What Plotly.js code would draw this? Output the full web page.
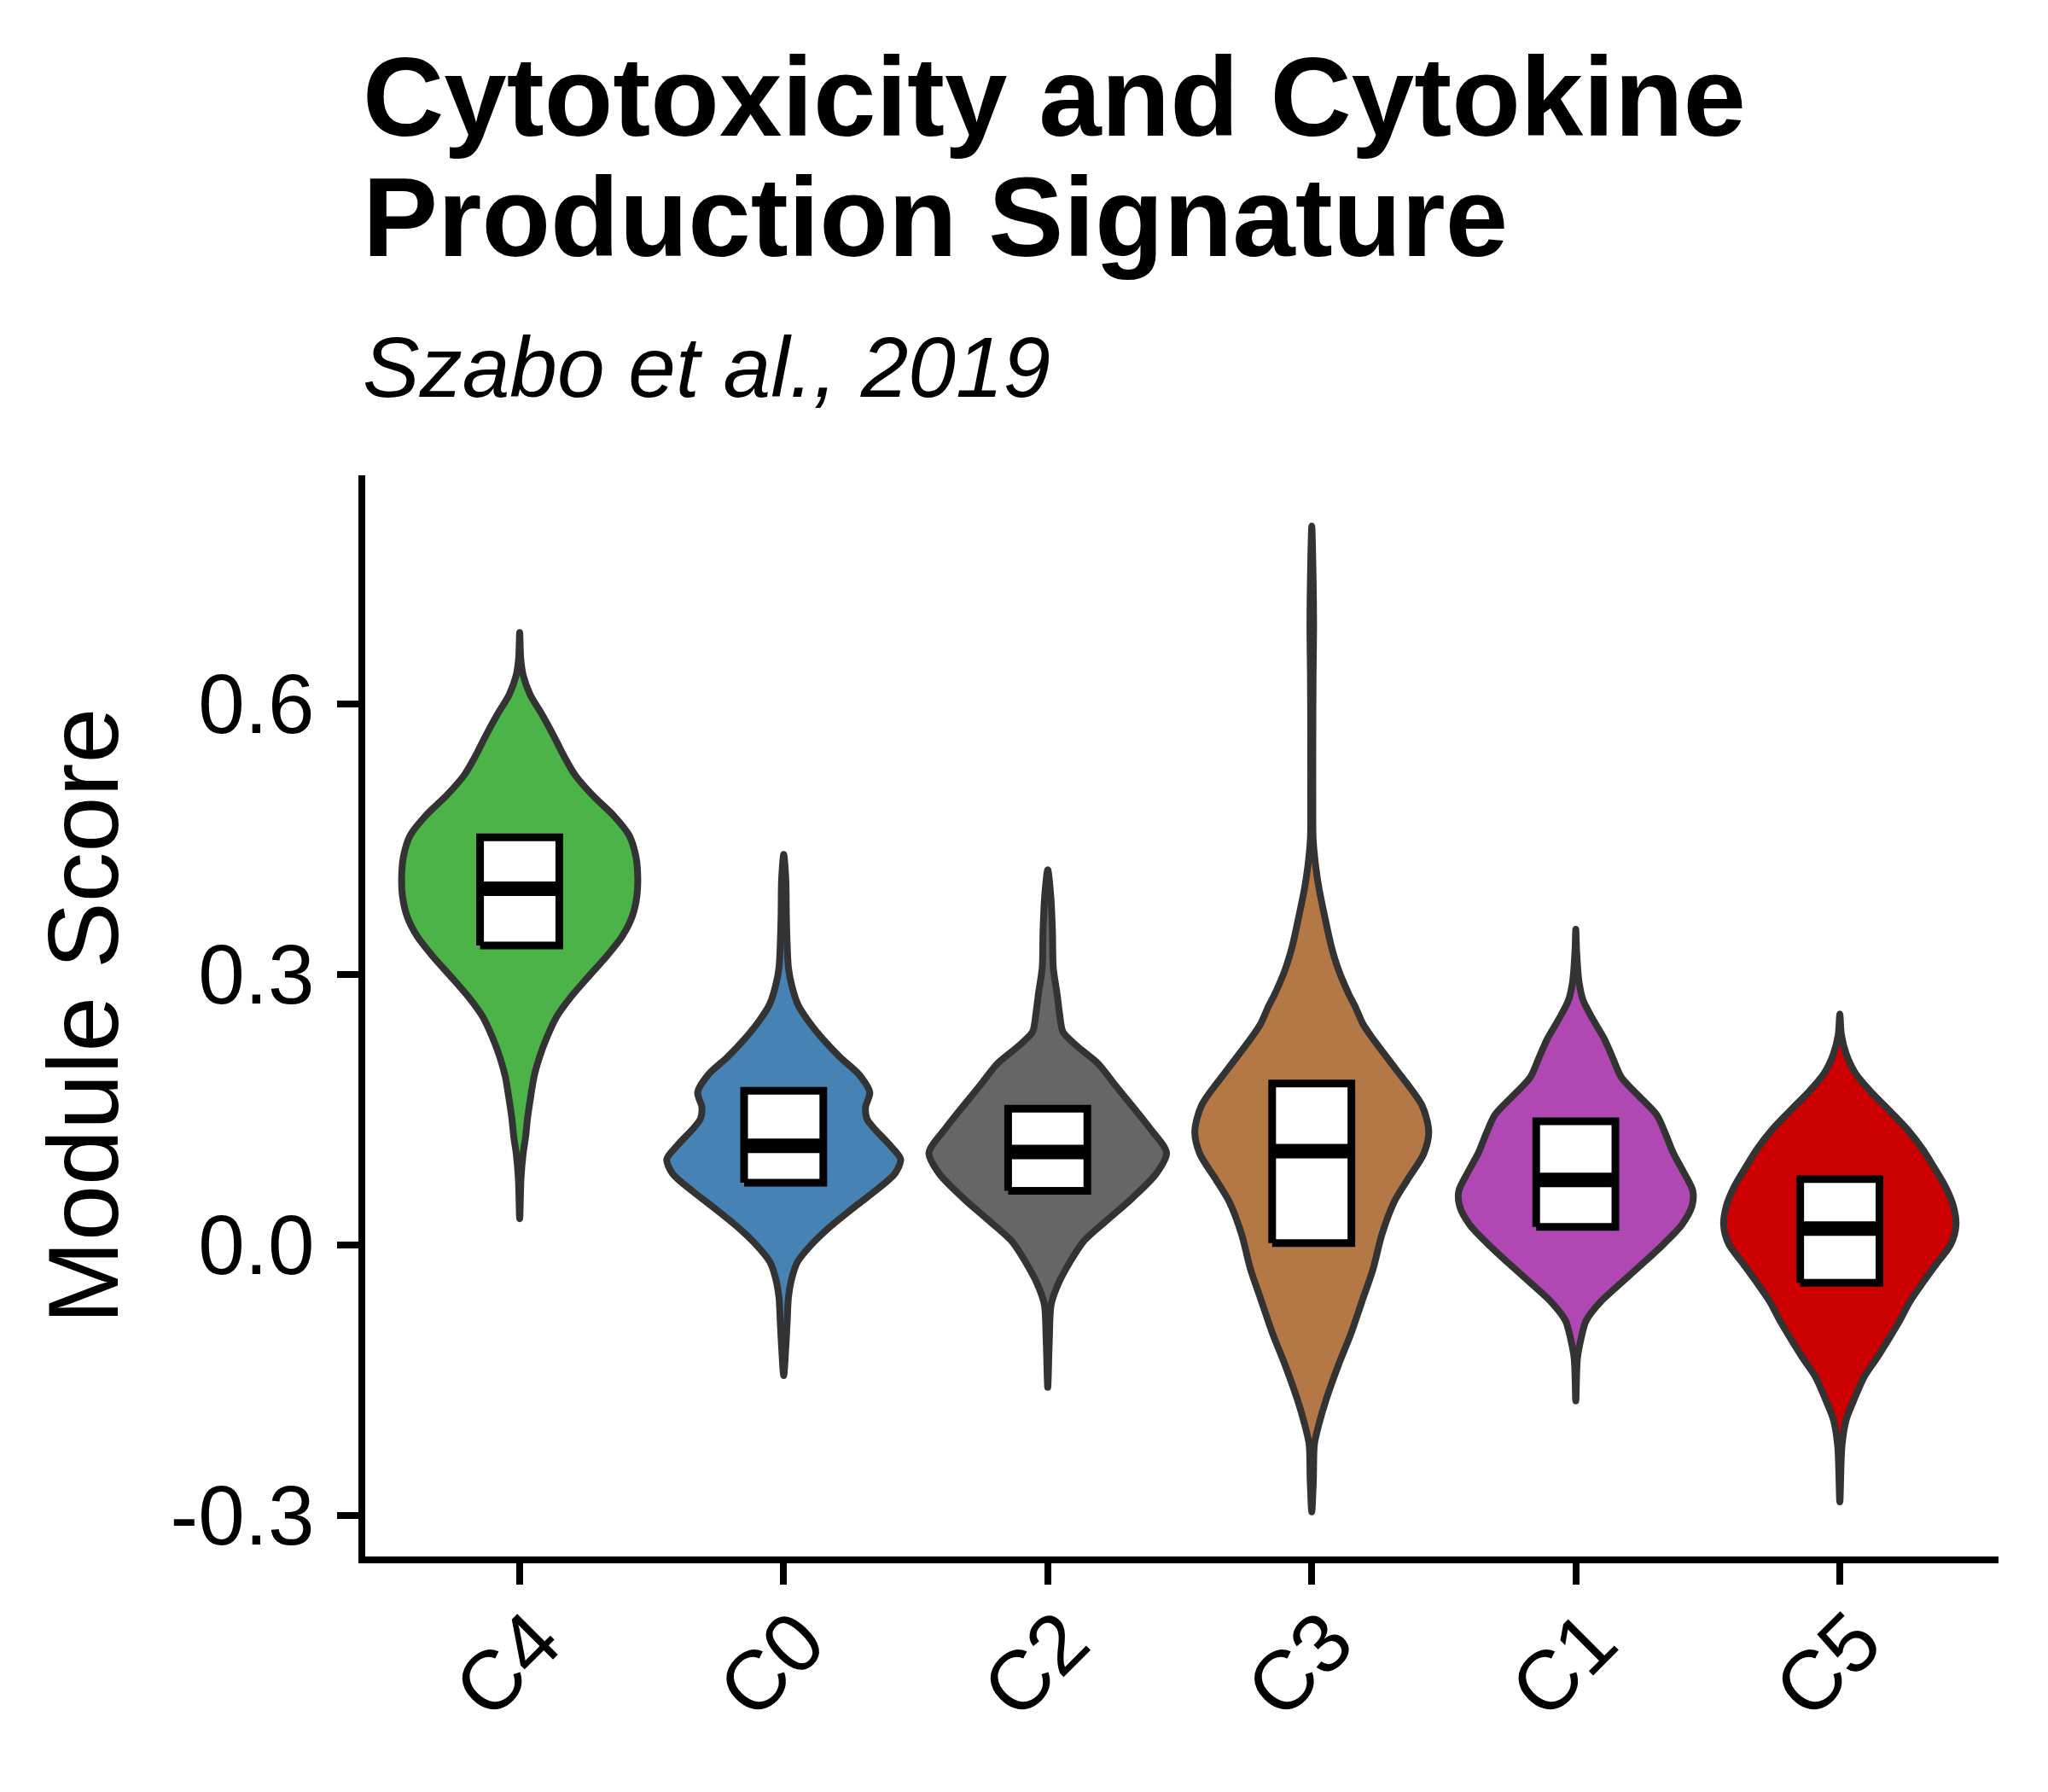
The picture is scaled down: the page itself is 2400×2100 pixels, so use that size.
<!DOCTYPE html>
<html><head><meta charset="utf-8">
<script src="https://cdn.plot.ly/plotly-3.0.1.min.js"></script>
<style>html,body{margin:0;padding:0;background:#fff}</style>
</head><body>
<div id="chart" style="width:2400px;height:2100px"></div>
<script>
// ---- data ----
const categories = ['C4', 'C0', 'C2', 'C3', 'C1', 'C5'];

// violin outlines: score levels (top to bottom) and half-widths (category units)
const c4Y = [0.679, 0.650, 0.632, 0.610, 0.588, 0.565, 0.543, 0.521, 0.498, 0.476, 0.454, 0.431, 0.409, 0.387, 0.364, 0.342, 0.320, 0.297, 0.275, 0.253, 0.230, 0.208, 0.186, 0.163, 0.141, 0.119, 0.101, 0.074, 0.029];
const c4W = [0, 0.004, 0.013, 0.040, 0.085, 0.128, 0.166, 0.210, 0.278, 0.356, 0.415, 0.440, 0.447, 0.444, 0.426, 0.388, 0.329, 0.259, 0.194, 0.140, 0.103, 0.075, 0.054, 0.041, 0.030, 0.022, 0.013, 0.005, 0];

const c0Y = [0.433, 0.405, 0.365, 0.334, 0.307, 0.287, 0.267, 0.248, 0.228, 0.208, 0.189, 0.169, 0.153, 0.140, 0.130, 0.110, 0.095, 0.079, 0.059, 0.040, 0.020, 0.000, -0.019, -0.039, -0.058, -0.086, -0.113, -0.145];
const c0W = [0, 0.008, 0.010, 0.013, 0.018, 0.031, 0.053, 0.094, 0.149, 0.214, 0.285, 0.326, 0.310, 0.315, 0.340, 0.404, 0.443, 0.421, 0.343, 0.259, 0.175, 0.104, 0.052, 0.029, 0.018, 0.013, 0.008, 0];

const c2Y = [0.416, 0.385, 0.346, 0.307, 0.279, 0.256, 0.236, 0.220, 0.201, 0.177, 0.154, 0.130, 0.102, 0.079, 0.051, 0.028, 0.004, -0.019, -0.043, -0.066, -0.105, -0.158];
const c2W = [0, 0.012, 0.018, 0.021, 0.035, 0.045, 0.058, 0.113, 0.191, 0.256, 0.320, 0.385, 0.450, 0.411, 0.317, 0.227, 0.136, 0.084, 0.040, 0.013, 0.006, 0];

const c3Y = [0.797, 0.741, 0.686, 0.632, 0.559, 0.487, 0.451, 0.422, 0.396, 0.360, 0.331, 0.306, 0.277, 0.264, 0.245, 0.228, 0.192, 0.155, 0.126, 0.101, 0.072, 0.047, 0.011, -0.026, -0.062, -0.098, -0.134, -0.171, -0.200, -0.221, -0.261, -0.296];
const c3W = [0, 0.005, 0.007, 0.005, 0.004, 0.004, 0.005, 0.014, 0.027, 0.052, 0.074, 0.100, 0.142, 0.165, 0.194, 0.233, 0.326, 0.417, 0.443, 0.424, 0.362, 0.311, 0.265, 0.233, 0.191, 0.149, 0.100, 0.055, 0.026, 0.010, 0.006, 0];

const c1Y = [0.350, 0.326, 0.292, 0.271, 0.250, 0.229, 0.208, 0.186, 0.165, 0.144, 0.123, 0.102, 0.081, 0.060, 0.043, 0.022, 0.001, -0.021, -0.042, -0.063, -0.084, -0.105, -0.126, -0.173];
const c1W = [0, 0.003, 0.012, 0.028, 0.065, 0.107, 0.139, 0.172, 0.239, 0.307, 0.340, 0.369, 0.408, 0.443, 0.440, 0.401, 0.333, 0.252, 0.172, 0.094, 0.039, 0.019, 0.006, 0];

const c5Y = [0.256, 0.233, 0.212, 0.191, 0.170, 0.148, 0.127, 0.106, 0.085, 0.064, 0.043, 0.022, 0.001, -0.021, -0.042, -0.063, -0.084, -0.105, -0.126, -0.147, -0.173, -0.194, -0.223, -0.285];
const c5W = [0, 0.006, 0.024, 0.058, 0.117, 0.191, 0.259, 0.314, 0.359, 0.401, 0.430, 0.440, 0.421, 0.366, 0.314, 0.265, 0.227, 0.184, 0.139, 0.091, 0.052, 0.024, 0.008, 0];

// box statistics
const q1Values = [0.332, 0.069, 0.060, 0.002, 0.020, -0.042];
const medianValues = [0.395, 0.110, 0.103, 0.104, 0.072, 0.018];
const q3Values = [0.452, 0.171, 0.151, 0.179, 0.137, 0.073];

// axis ticks
const yTickVals = [-0.3, 0.0, 0.3, 0.6];
const yTickText = ['-0.3', '0.0', '0.3', '0.6'];

// ---- styles ----
const fillColors = ['#4CB348', '#4682B4', '#666666', '#B47846', '#B047B3', '#CC0000'];
const FONT = 'Liberation Sans, Arial, Helvetica, sans-serif';
const BOX_W = 0.3;

const violinY = [c4Y, c0Y, c2Y, c3Y, c1Y, c5Y];
const violinW = [c4W, c0W, c2W, c3W, c1W, c5W];
const catPos = categories.map((c, i) => i);

const traces = [];
categories.forEach((cat, i) => {
  const ys = violinY[i], ws = violinW[i];
  const xs = [], yy = [];
  for (let k = 0; k < ys.length; k++) { xs.push(catPos[i] + ws[k]); yy.push(ys[k]); }
  for (let k = ys.length - 2; k >= 0; k--) { xs.push(catPos[i] - ws[k]); yy.push(ys[k]); }
  traces.push({
    type: 'scatter', mode: 'lines', x: xs, y: yy, name: cat,
    fill: 'toself', fillcolor: fillColors[i],
    line: {color: '#333333', width: 8, shape: 'spline', smoothing: 0.8},
    hoverinfo: 'skip', showlegend: false
  });
});

// boxes (interquartile range) drawn on top of the violins
categories.forEach((cat, i) => {
  const x0 = catPos[i] - BOX_W / 2, x1 = catPos[i] + BOX_W / 2;
  traces.push({
    type: 'scatter', mode: 'lines',
    x: [x0, x1, x1, x0, x0],
    y: [q1Values[i], q1Values[i], q3Values[i], q3Values[i], q1Values[i]],
    fill: 'toself', fillcolor: '#ffffff',
    line: {color: '#000000', width: 9}, showlegend: false, hoverinfo: 'skip'
  });
  traces.push({
    type: 'scatter', mode: 'lines',
    x: [x0, x1], y: [medianValues[i], medianValues[i]],
    line: {color: '#000000', width: 17}, showlegend: false, hoverinfo: 'skip'
  });
});

const axisCommon = {
  ticks: 'outside', ticklen: 25, tickwidth: 8, tickcolor: '#000000',
  showline: true, linewidth: 8, linecolor: '#000000',
  showgrid: false, zeroline: false,
  tickfont: {size: 98, color: '#000000', family: FONT}
};

const layout = {
  width: 2400, height: 2100,
  margin: {l: 428, r: 58, t: 557, b: 276},
  paper_bgcolor: '#ffffff', plot_bgcolor: '#ffffff', showlegend: false,
  font: {family: FONT, color: '#000000'},
  xaxis: Object.assign({}, axisCommon, {
    range: [-0.585, 5.601], tickmode: 'array', tickvals: catPos, ticktext: categories,
    tickangle: -45, ticklabelstandoff: -30, ticklabelshift: 19
  }),
  yaxis: Object.assign({}, axisCommon, {
    range: [-0.3455, 0.8534], tickmode: 'array', tickvals: yTickVals, ticktext: yTickText,
    ticklabelstandoff: 7,
    title: {text: 'Module Score', font: {size: 117, color: '#000000', family: FONT}, standoff: 25}
  }),
  annotations: [
    {text: 'Cytotoxicity and Cytokine', xref: 'paper', yref: 'paper', x: 0, y: 1.2905,
     xanchor: 'left', yanchor: 'bottom', xshift: -5, showarrow: false,
     font: {size: 132, weight: 700, color: '#000000', family: FONT}},
    {text: 'Production Signature', xref: 'paper', yref: 'paper', x: 0, y: 1.1795,
     xanchor: 'left', yanchor: 'bottom', xshift: -5, showarrow: false,
     font: {size: 132, weight: 700, color: '#000000', family: FONT}},
    {text: 'Szabo et al., 2019', xref: 'paper', yref: 'paper', x: 0, y: 1.0548,
     xanchor: 'left', yanchor: 'bottom', xshift: -5, showarrow: false,
     font: {size: 100, style: 'italic', color: '#000000', family: FONT}}
  ]
};

Plotly.newPlot('chart', traces, layout, {staticPlot: true, displayModeBar: false});
</script>
</body></html>
